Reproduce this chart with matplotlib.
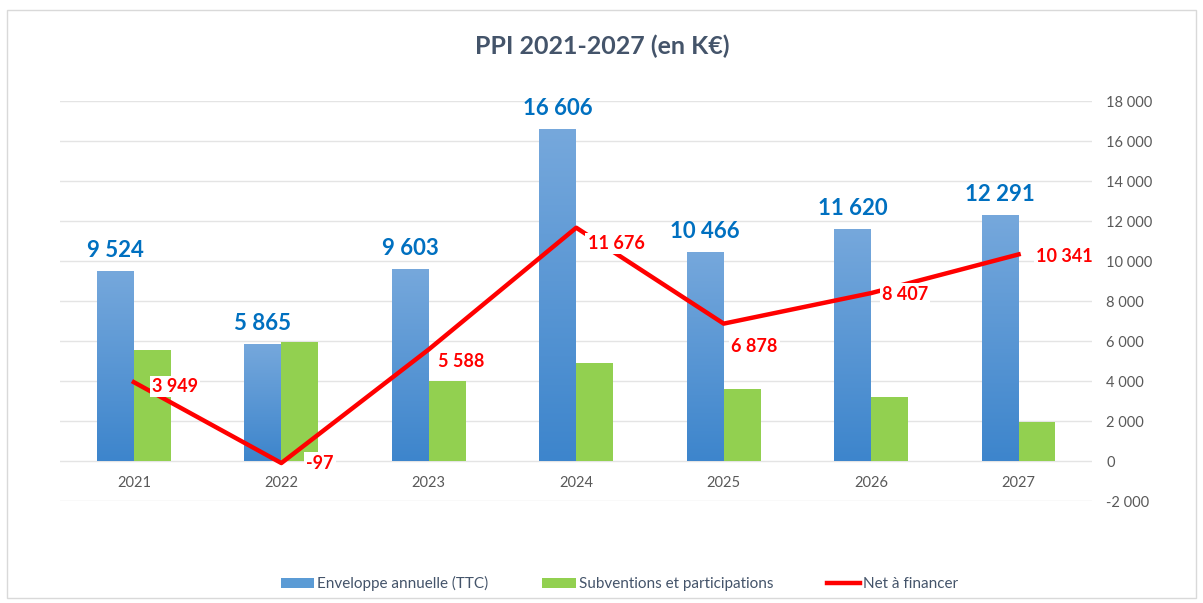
import numpy as np
import matplotlib.pyplot as plt
from matplotlib.colors import LinearSegmentedColormap
from matplotlib.patches import Rectangle, Patch

plt.rcParams['font.family'] = ['Lato', 'DejaVu Sans']

years = ["2021", "2022", "2023", "2024", "2025", "2026", "2027"]
enveloppe = [9524, 5865, 9603, 16606, 10466, 11620, 12291]
subventions = [5575, 5962, 4015, 4930, 3588, 3213, 1950]
net = [3949, -97, 5588, 11676, 6878, 8407, 10341]

fig = plt.figure(figsize=(12.03, 6.03), dpi=100)
fig.patches.append(Rectangle((0.006, 0.008), 0.988, 0.975, transform=fig.transFigure,
                             fill=False, edgecolor="#d9d9d9", linewidth=1))
ax = fig.add_axes([0.05, 0.169, 0.858, 0.663])

x = np.arange(len(years))
w = 0.25
blue_cmap = LinearSegmentedColormap.from_list("b", ["#3d85cc", "#76a8dc"])
grad = np.linspace(0, 1, 256).reshape(-1, 1)

bars = ax.bar(x - w / 2, enveloppe, w, color="#5b9bd5", zorder=2)
for b in bars:
    im = ax.imshow(grad, cmap=blue_cmap, aspect="auto", origin="lower",
                   extent=[b.get_x(), b.get_x() + b.get_width(), 0, b.get_height()], zorder=2)
    im.set_clip_path(b)
    b.set_alpha(0)
green = ax.bar(x + w / 2, subventions, w, color="#92d050", zorder=3)
line, = ax.plot(x, net, color="#ff0000", linewidth=3.2, zorder=4)

for i, v in enumerate(enveloppe):
    ax.text(x[i] - w / 2, v + 500, f"{v:,}".replace(",", " "), ha="center", va="bottom",
            fontsize=16, fontweight="bold", color="#0070c0", zorder=5)

offsets = [(0.28, -200), (0.26, 0), (0.22, -600), (0.27, -800), (0.21, -1150), (0.23, -50), (0.31, -100)]
for i, v in enumerate(net):
    dx, dy = offsets[i]
    ax.text(x[i] + dx, v + dy, f"{v:,}".replace(",", " "), ha="center", va="center",
            fontsize=13, fontweight="bold", color="#ff0000", zorder=6,
            bbox=dict(facecolor="white", edgecolor="none", pad=1.5))

ax.set_xlim(-0.5, len(years) - 0.5)
ax.set_ylim(-2000, 18000)
ax.set_yticks(range(-2000, 18001, 2000))
ax.yaxis.tick_right()
ax.set_yticklabels([f"{t:,}".replace(",", " ") for t in range(-2000, 18001, 2000)],
                   fontsize=10.5, color="#595959")
ax.tick_params(axis="y", length=0, pad=10)
ax.set_xticks([])
for i, y in enumerate(years):
    ax.text(x[i], -1100, y, ha="center", va="center", fontsize=10.5, color="#595959")
ax.grid(axis="y", color="#e4e4e4", linewidth=1, zorder=0)
for s in ax.spines.values():
    s.set_visible(False)

ax.set_title("PPI 2021-2027 (en K€)", fontsize=18, fontweight="bold", color="#44546a",
             pad=34, x=0.525)

blue_handle = Patch(facecolor="#5b9bd5")
fig.legend([blue_handle, green, line],
           ["Enveloppe annuelle (TTC)", "Subventions et participations", "Net à financer"],
           loc="center", bbox_to_anchor=(0.515, 0.032), ncol=3, frameon=False, fontsize=11,
           handlelength=2.2, handleheight=0.7, columnspacing=3.5, handletextpad=0.2,
           labelcolor="#44546a")

fig.savefig("out.png", dpi=100)
